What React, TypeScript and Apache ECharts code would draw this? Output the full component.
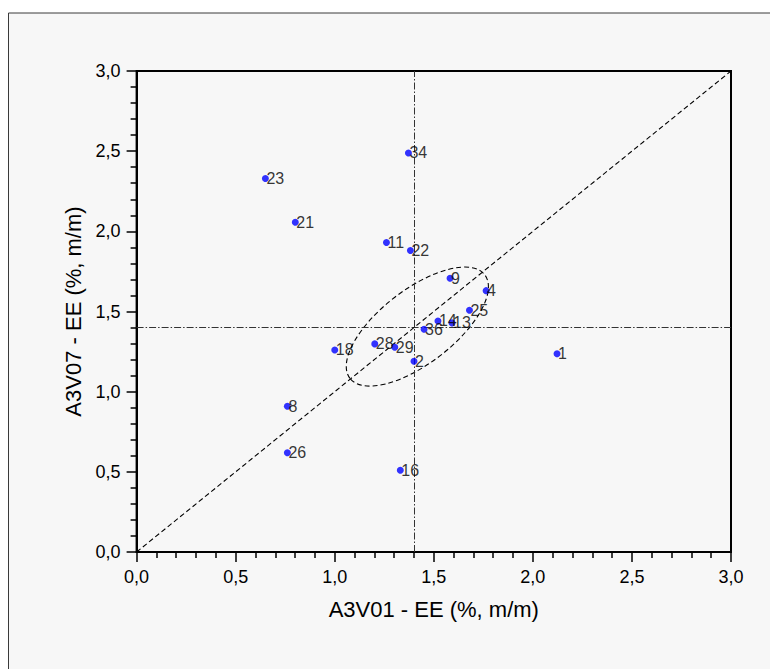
import React, { useEffect, useRef } from "react";
import * as echarts from "echarts";

// Sample identifiers and their results for the two methods
const POINT_IDS = ["1", "2", "4", "8", "9", "11", "13", "14", "16", "18", "21", "22", "23", "25", "26", "28", "29", "34", "36"];
const X_VALUES = [2.122, 1.4, 1.764, 0.761, 1.582, 1.261, 1.592, 1.521, 1.331, 1.0, 0.801, 1.382, 0.65, 1.68, 0.761, 1.202, 1.303, 1.372, 1.451];
const Y_VALUES = [1.237, 1.19, 1.63, 0.909, 1.707, 1.93, 1.429, 1.441, 0.51, 1.26, 2.057, 1.88, 2.329, 1.508, 0.619, 1.298, 1.277, 2.489, 1.389];

// Reference values (crosshair) and identity line end points
const REF_X = 1.4;
const REF_Y = 1.395;
const IDENTITY = [[0, 0], [3, 3]];

// Confidence ellipse centre (data units)
const ELLIPSE_CENTER = [1.417, 1.406];

const AXIS_MIN = 0;
const AXIS_MAX = 3;
const AXIS_STEP = 0.5;

const FONT = "'Liberation Sans', Arial, Helvetica, sans-serif";

const fmt = (v: number) => v.toFixed(1).replace(".", ",");

export default function App() {
  const ref = useRef<HTMLDivElement>(null);

  useEffect(() => {
    if (!ref.current) return;
    const chart = echarts.init(ref.current, undefined, { renderer: "svg" });

    const points = POINT_IDS.map((id, i) => [X_VALUES[i], Y_VALUES[i], id]);

    const axisCommon = {
      min: AXIS_MIN,
      max: AXIS_MAX,
      interval: AXIS_STEP,
      nameLocation: "middle" as const,
      nameTextStyle: { fontFamily: FONT, fontSize: 22, color: "#000" },
      axisLine: { show: true, onZero: false, lineStyle: { color: "#000", width: 2 } },
      axisTick: { show: true, length: 10, lineStyle: { color: "#000", width: 1.5 } },
      minorTick: { show: true, splitNumber: 5, length: 6, lineStyle: { color: "#000", width: 1.5 } },
      splitLine: { show: false },
      minorSplitLine: { show: false },
      axisLabel: {
        fontFamily: FONT,
        fontSize: 18,
        color: "#000",
        margin: 16,
        showMinLabel: true,
        showMaxLabel: true,
        formatter: (v: number) => fmt(v),
      },
    };

    chart.setOption({
      animation: false,
      backgroundColor: "transparent",
      graphic: [
        {
          type: "rect",
          z: -10,
          silent: true,
          shape: { x: 0.5, y: 5, width: 820, height: 720 },
          style: { fill: "#f7f7f7", stroke: "#3a3a3a", lineWidth: 1 },
        },
      ],
      grid: {
        left: 128.6,
        top: 63,
        width: 594.4,
        height: 481,
        show: true,
        backgroundColor: "transparent",
        borderColor: "#000",
        borderWidth: 2,
        containLabel: false,
      },
      xAxis: {
        ...axisCommon,
        type: "value",
        name: "A3V01 - EE (%, m/m)",
        nameGap: 46,
      },
      yAxis: {
        ...axisCommon,
        type: "value",
        name: "A3V07 - EE (%, m/m)",
        nameGap: 52,
        nameRotate: 90,
      },
      series: [
        {
          type: "custom",
          silent: true,
          z: 3,
          data: [ELLIPSE_CENTER],
          renderItem: (params: any, api: any) => {
            const c = api.coord([api.value(0), api.value(1)]);
            return {
              type: "ellipse",
              x: c[0],
              y: c[1],
              rotation: (37.5 * Math.PI) / 180,
              shape: { cx: 0, cy: 0, rx: 85, ry: 37 },
              style: { fill: "none", stroke: "#000", lineWidth: 1.1, lineDash: [5, 3] },
            };
          },
        },
        {
          type: "scatter",
          z: 5,
          symbol: "circle",
          symbolSize: 7,
          itemStyle: { color: "#0000ff" },
          data: points,
          label: {
            show: true,
            position: "inside",
            align: "left",
            verticalAlign: "middle",
            offset: [1, 0],
            fontFamily: FONT,
            fontSize: 16,
            color: "#000",
            formatter: (p: any) => p.value[2],
          },
          markLine: {
            silent: true,
            symbol: ["none", "none"],
            label: { show: false },
            animation: false,
            data: [
              {
                xAxis: REF_X,
                lineStyle: { color: "#333", width: 1, type: [7, 2, 1.5, 2] },
              },
              {
                yAxis: REF_Y,
                lineStyle: { color: "#333", width: 1, type: [7, 2, 1.5, 2] },
              },
              [
                { coord: IDENTITY[0], lineStyle: { color: "#000", width: 1.1, type: [5, 3] } },
                { coord: IDENTITY[1] },
              ],
            ],
          },
        },
      ],
    });

    return () => chart.dispose();
  }, []);

  return <div ref={ref} style={{ width: 770, height: 661 }} />;
}
